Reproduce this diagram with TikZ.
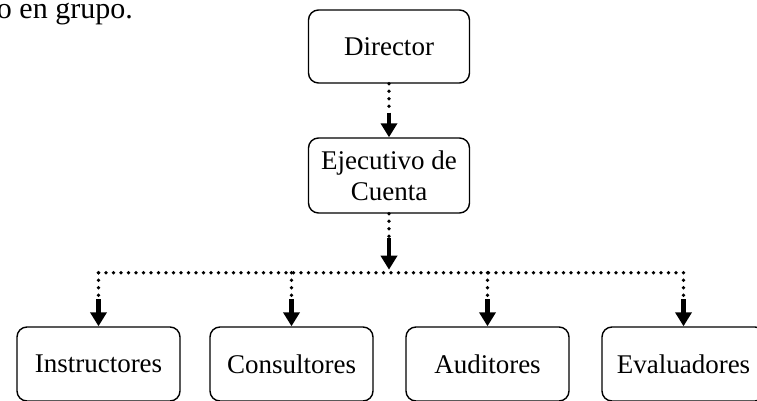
\documentclass[tikz,border=0pt]{standalone}
\usepackage{fontspec}
\setmainfont{Liberation Serif}
\usetikzlibrary{arrows.meta,calc}
\begin{document}
\begin{tikzpicture}[x=1pt,y=-1pt,
  lbl/.style={font=\fontsize{30}{34}\selectfont},
  box/.style={draw, line width=1.4pt, rounded corners=10pt, inner sep=0pt,
    font=\fontsize{27}{31}\selectfont, align=center},
  topbox/.style={box, minimum width=161pt, minimum height=73pt},
  leaf/.style={box, minimum width=163pt, minimum height=74pt},
  dots/.style={line width=3.8pt, line cap=round, dash pattern=on 0pt off 7.5pt},
  arr/.style={line width=4.5pt, -{Triangle[width=16pt,length=14pt]}},
]
\useasboundingbox (0,0) rectangle (757,401);
\clip (0,0) rectangle (757,401);

\node[lbl, anchor=base east, inner sep=0pt] (intro) at (133,19) {o en grupo.};

\node[topbox] (dir) at (389,46.5) {Director};
\node[topbox, minimum height=75pt] (ejec) at (389,175.5) {Ejecutivo de\\Cuenta};

\node[leaf] (inst) at (98.5,364) {Instructores};
\node[leaf] (cons) at (291.5,364) {Consultores};
\node[leaf] (audi) at (487.5,364) {Auditores};
\node[leaf] (eval) at (683.5,364) {Evaluadores};

% Director -> Ejecutivo
\coordinate (d1) at ($(dir.south)+(0,29)$);
\draw[dots] (dir.south) -- (d1);
\draw[arr] (d1) -- (ejec.north);

% Ejecutivo -> bus
\coordinate (bus) at ($(ejec.south)+(0,59)$);
\coordinate (e1) at ($(ejec.south)+(0,24)$);
\coordinate (e2) at ($(bus)+(0,-3)$);
\draw[dots] (ejec.south) -- (e1);
\draw[arr] (e1) -- (e2);

% bus
\draw[dots] (inst.north |- bus) -- (eval.north |- bus);

% drops
\foreach \n in {inst,cons,audi,eval}{
  \coordinate (\n-a) at ($(\n.north)+(0,-27)$);
  \draw[dots] (\n.north |- bus) -- (\n-a);
  \draw[arr] (\n-a) -- (\n.north);
}
\end{tikzpicture}
\end{document}
